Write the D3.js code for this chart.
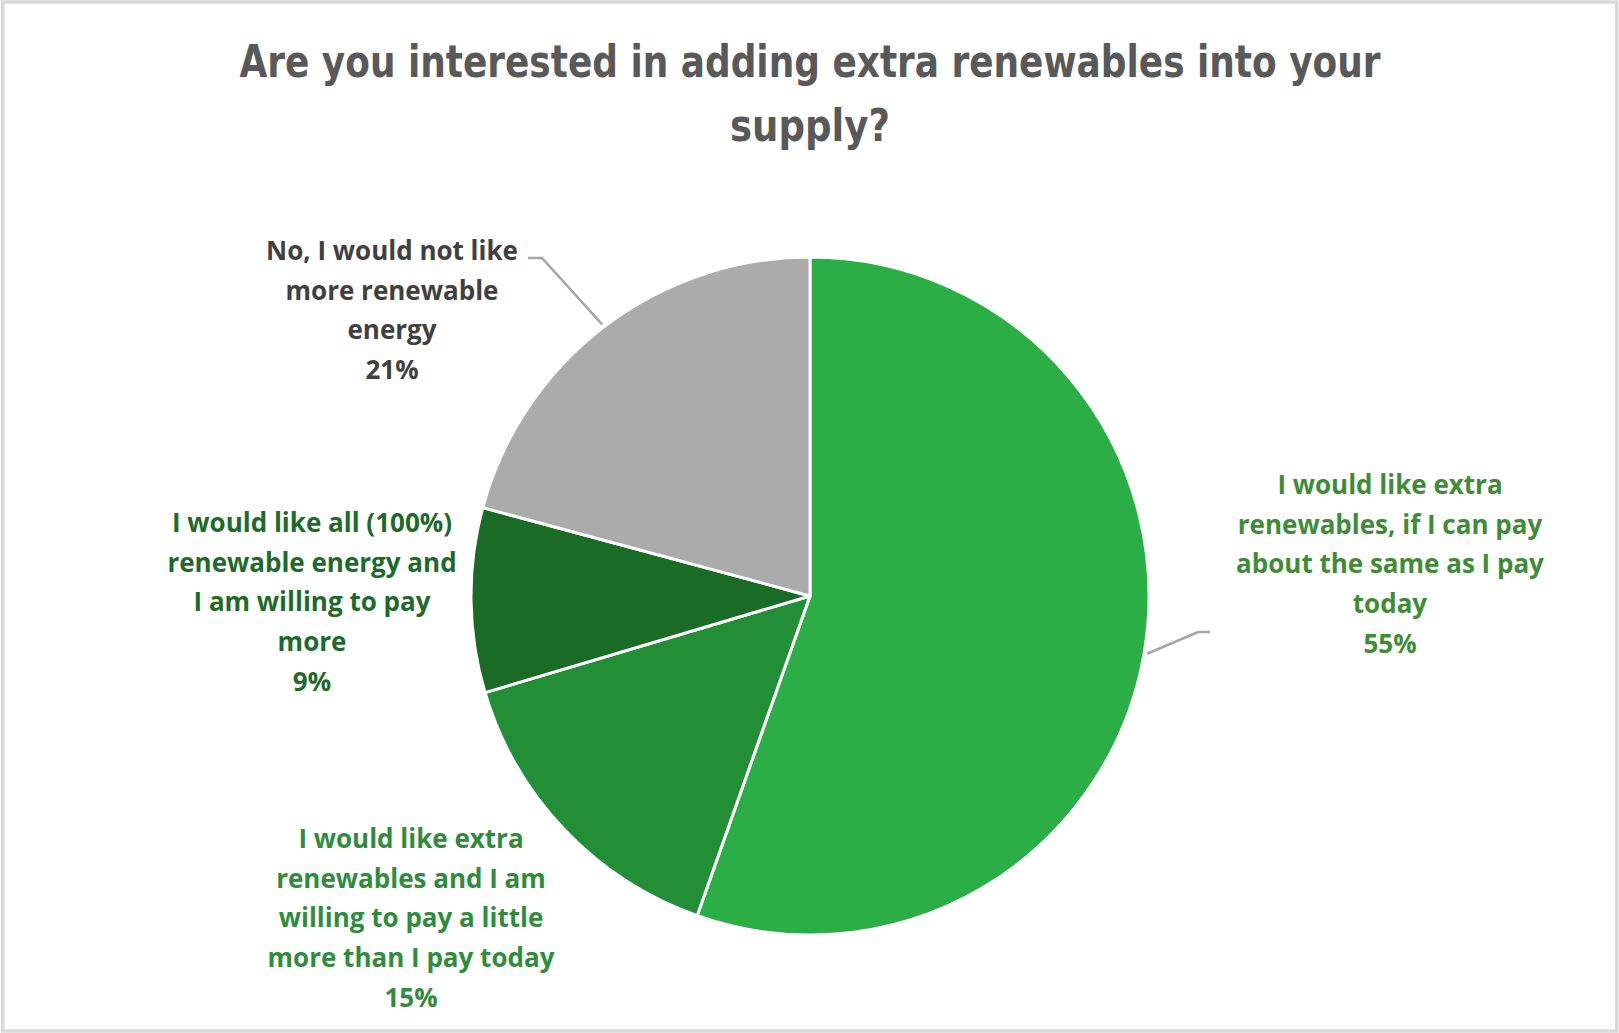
<!DOCTYPE html>
<html>
<head>
<meta charset="utf-8">
<script src="https://cdn.jsdelivr.net/npm/d3@7"></script>
<style>
  html, body { margin: 0; padding: 0; background: #fff; }
  .title { font-family: 'DejaVu Sans Condensed', 'Liberation Sans Narrow', sans-serif; font-weight: 700; fill: #595959; }
  .label { font-family: 'Open Sans', 'Noto Sans', sans-serif; }
</style>
</head>
<body>
<div id="chart"></div>
<script>
const titleLines = ['Are you interested in adding extra renewables into your', 'supply?']
const titleWidths = [1141, 160]

const categories = [
  'I would like extra renewables, if I can pay about the same as I pay today',
  'I would like extra renewables and I am willing to pay a little more than I pay today',
  'I would like all (100%) renewable energy and I am willing to pay more',
  'No, I would not like more renewable energy'
]
const values = [55.4, 15.0, 8.8, 20.8]
const labelLines = [
  ['I would like extra', 'renewables, if I can pay', 'about the same as I pay', 'today'],
  ['I would like extra', 'renewables and I am', 'willing to pay a little', 'more than I pay today'],
  ['I would like all (100%)', 'renewable energy and', 'I am willing to pay', 'more'],
  ['No, I would not like', 'more renewable', 'energy']
]

const sliceColors = ['#2bae45', '#228f37', '#1a6b25', '#ababab']
const labelColors = ['#3e8c36', '#2f8c3c', '#1e6a2a', '#404040']

// where Excel put the labels (centre of the first line) and the leader elbows
const labelPos = [[1390, 485], [411, 839], [312, 523], [392, 251]]
const leaders = [[[1198, 632], [1210, 632]], null, null, [[542, 258], [528, 258]]]

const width = 1619
const height = 1033
const cx = 810
const cy = 596
const radius = 339
const lineStep = 39.6

const svg = d3.select('#chart')
  .append('svg')
  .attr('width', width)
  .attr('height', height)

svg.append('rect')
  .attr('x', 2.75)
  .attr('y', 2)
  .attr('width', width - 5)
  .attr('height', height - 4)
  .attr('fill', '#fff')
  .attr('stroke', '#d9d9d9')
  .attr('stroke-width', 3.5)

svg.selectAll('text.title')
  .data(titleLines)
  .enter()
  .append('text')
  .attr('class', 'title')
  .attr('x', cx)
  .attr('y', (d, i) => 62 + i * 64)
  .attr('dy', '0.35em')
  .attr('text-anchor', 'middle')
  .attr('textLength', (d, i) => titleWidths[i])
  .attr('lengthAdjust', 'spacingAndGlyphs')
  .style('font-size', '44px')
  .text(d => d)

const pie = d3.pie().sort(null).value(d => d)
const arcs = pie(values)

const arc = d3.arc().innerRadius(0).outerRadius(radius)

const g = svg.append('g').attr('transform', 'translate(' + cx + ',' + cy + ')')

g.selectAll('path.slice')
  .data(arcs)
  .enter()
  .append('path')
  .attr('class', 'slice')
  .attr('d', arc)
  .attr('fill', (d, i) => sliceColors[i])
  .attr('stroke', '#fff')
  .attr('stroke-width', 3)
  .attr('stroke-linejoin', 'round')

// leader lines from the slice edge at its mid angle
arcs.forEach(function(d, i) {
  if (!leaders[i]) return
  const a = (d.startAngle + d.endAngle) / 2
  const start = [cx + (radius + 3) * Math.sin(a), cy - (radius + 3) * Math.cos(a)]
  const pts = [start].concat(leaders[i])
  svg.append('path')
    .attr('d', d3.line()(pts))
    .attr('fill', 'none')
    .attr('stroke', '#a6a6a6')
    .attr('stroke-width', 2.5)
})

const labels = svg.selectAll('g.label')
  .data(arcs)
  .enter()
  .append('g')
  .attr('class', 'label')
  .attr('transform', (d, i) => 'translate(' + labelPos[i][0] + ',' + labelPos[i][1] + ')')

labels.each(function(d, i) {
  const lines = labelLines[i].concat([d3.format('.0f')(d.value) + '%'])
  d3.select(this)
    .selectAll('text')
    .data(lines)
    .enter()
    .append('text')
    .attr('x', 0)
    .attr('y', (t, j) => j * lineStep)
    .attr('dy', '0.35em')
    .attr('text-anchor', 'middle')
    .attr('fill', labelColors[i])
    .style('font-size', '26px')
    .style('font-weight', 700)
    .text(t => t)
})
</script>
</body>
</html>
